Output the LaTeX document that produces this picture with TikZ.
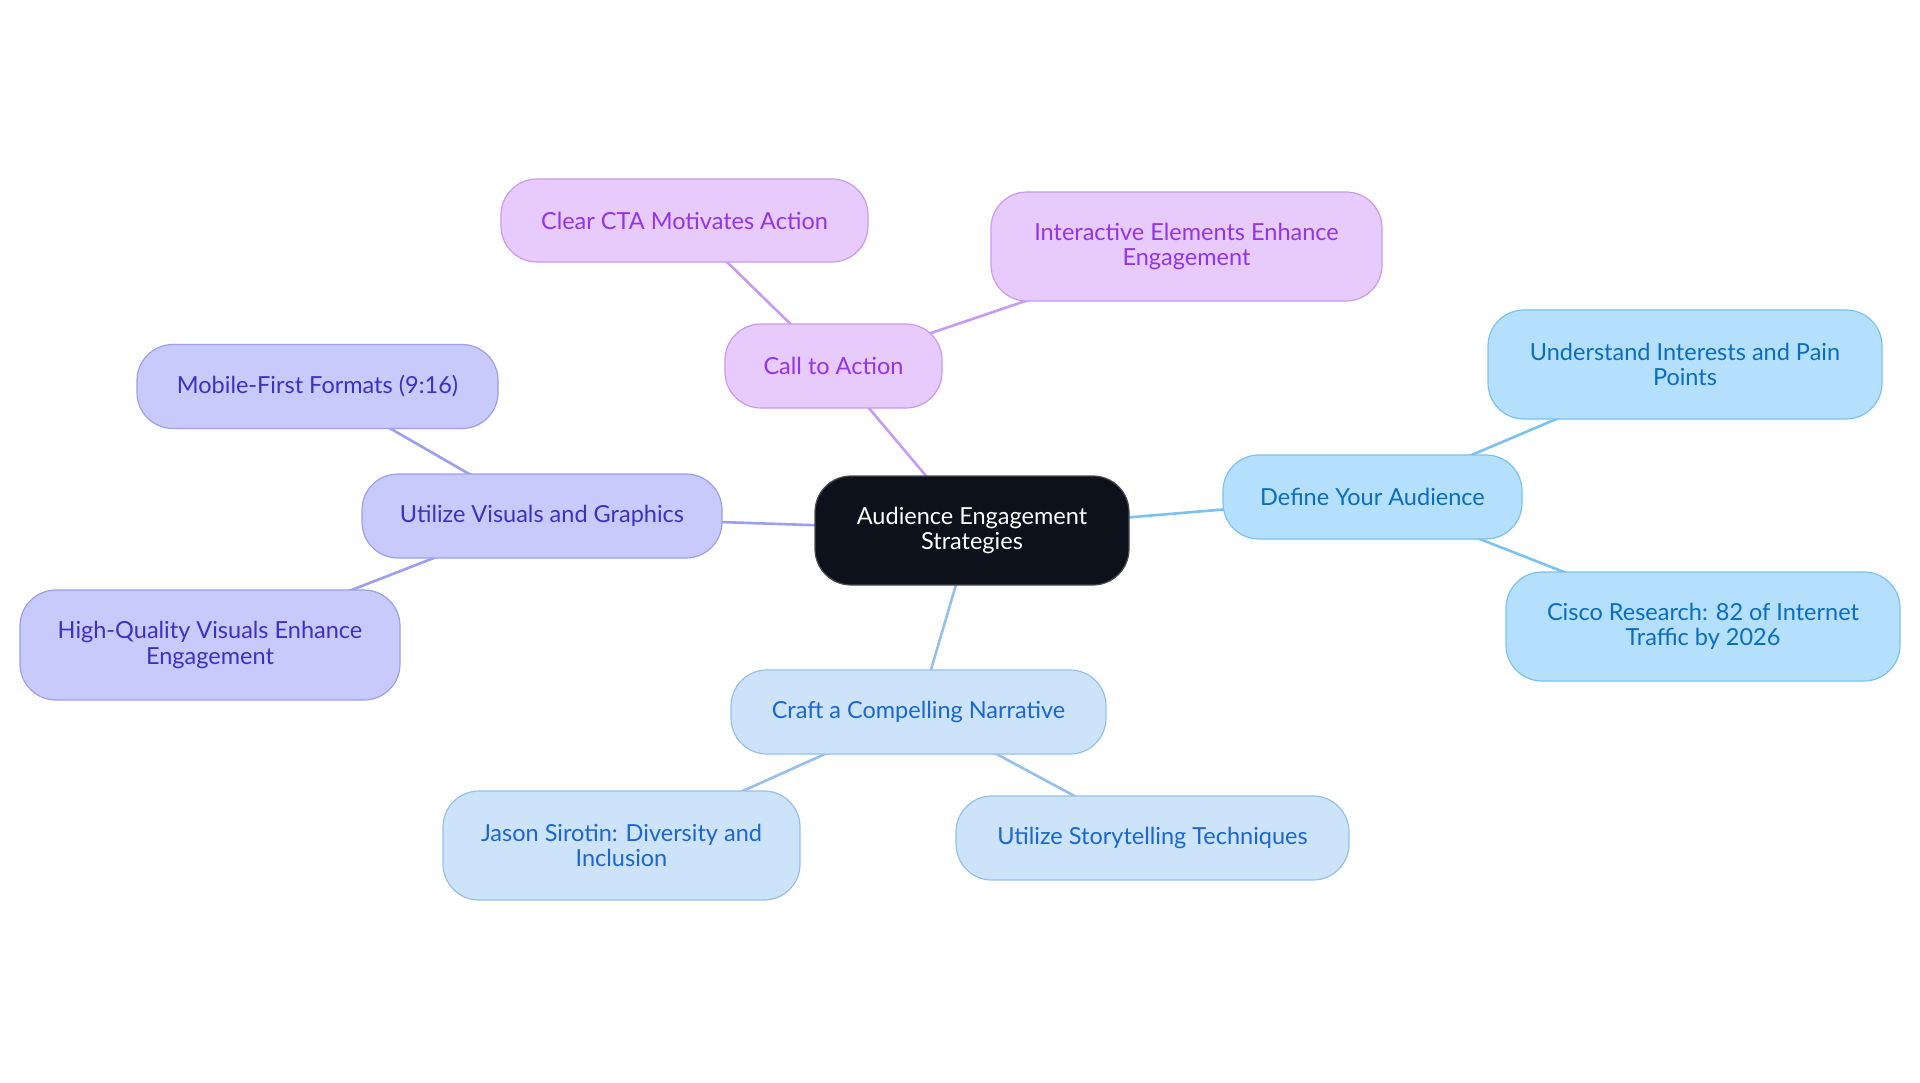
\documentclass[tikz,border=0pt]{standalone}
\usepackage{fontspec}
\setmainfont{Lato}
\usetikzlibrary{backgrounds}
\definecolor{pfill}{HTML}{E8CBFD}
\definecolor{pdraw}{HTML}{C99AF0}
\definecolor{ptext}{HTML}{9333EA}
\definecolor{pline}{HTML}{C79BF2}
\definecolor{bfill}{HTML}{B4DFFD}
\definecolor{bdraw}{HTML}{7CC2F0}
\definecolor{btext}{HTML}{0A6DC0}
\definecolor{bline}{HTML}{7CC2F0}
\definecolor{ifill}{HTML}{C9CAFC}
\definecolor{idraw}{HTML}{9C9EEE}
\definecolor{itext}{HTML}{3B32C4}
\definecolor{iline}{HTML}{9C9EEE}
\definecolor{lfill}{HTML}{CDE3FA}
\definecolor{ldraw}{HTML}{96C0EC}
\definecolor{ltext}{HTML}{1B66D1}
\definecolor{lline}{HTML}{96C0EC}
\definecolor{cfill}{HTML}{0C111B}
\tikzset{
  box/.style={rounded corners=36pt, line width=1.2pt, align=center, inner sep=0pt,
    font=\fontsize{23.5}{25.7}\selectfont},
  pbox/.style={box, fill=pfill, draw=pdraw, text=ptext},
  bbox/.style={box, fill=bfill, draw=bdraw, text=btext},
  ibox/.style={box, fill=ifill, draw=idraw, text=itext},
  lbox/.style={box, fill=lfill, draw=ldraw, text=ltext},
  cbox/.style={box, fill=cfill, draw=black!70, text=white},
  conn/.style={line width=2.6pt}
}
\begin{document}
\begin{tikzpicture}[x=1pt,y=-1pt]
\useasboundingbox (0,0) rectangle (1920,1083);
\node[cbox, minimum width=314pt, minimum height=109pt] (center) at (972,530.5) {Audience Engagement\\Strategies};
\node[pbox, minimum width=217pt, minimum height=84pt] (call) at (833.5,366) {Call to Action};
\node[pbox, minimum width=367pt, minimum height=83pt] (clear) at (684.5,220.5) {Clear CTA Motivates Action};
\node[pbox, minimum width=391pt, minimum height=109pt] (inter) at (1186.5,246.5) {Interactive Elements Enhance\\Engagement};
\node[bbox, minimum width=299pt, minimum height=84pt] (define) at (1372.5,497) {Define Your Audience};
\node[bbox, minimum width=394pt, minimum height=109pt] (under) at (1685,364.5) {Understand Interests and Pain\\Points};
\node[bbox, minimum width=394pt, minimum height=109pt] (cisco) at (1703,626.5) {Cisco Research: 82 of Internet\\Traffic by 2026};
\node[ibox, minimum width=360pt, minimum height=84pt] (visuals) at (542,516) {Utilize Visuals and Graphics};
\node[ibox, minimum width=361pt, minimum height=84pt] (mobile) at (317.5,386.5) {Mobile-First Formats (9:16)};
\node[ibox, minimum width=380pt, minimum height=110pt] (high) at (210,645) {High-Quality Visuals Enhance\\Engagement};
\node[lbox, minimum width=375pt, minimum height=84pt] (craft) at (918.5,712) {Craft a Compelling Narrative};
\node[lbox, minimum width=357pt, minimum height=109pt] (jason) at (621.5,845.5) {Jason Sirotin: Diversity and\\Inclusion};
\node[lbox, minimum width=393pt, minimum height=84pt] (story) at (1152.5,838) {Utilize Storytelling Techniques};
\begin{scope}[on background layer]
\fill[white] (0,0) rectangle (1920,1083);
\draw[conn, pline] (center.center) -- (call.center);
\draw[conn, pline] (call.center) -- (clear.center);
\draw[conn, pline] (call.center) -- (inter.center);
\draw[conn, bline] (center.center) -- (define.center);
\draw[conn, bline] (define.center) -- (under.center);
\draw[conn, bline] (define.center) -- (cisco.center);
\draw[conn, iline] (center.center) -- (visuals.center);
\draw[conn, iline] (visuals.center) -- (mobile.center);
\draw[conn, iline] (visuals.center) -- (high.center);
\draw[conn, lline] (center.center) -- (craft.center);
\draw[conn, lline] (craft.center) -- (jason.center);
\draw[conn, lline] (craft.center) -- (story.center);
\end{scope}
\end{tikzpicture}
\end{document}
